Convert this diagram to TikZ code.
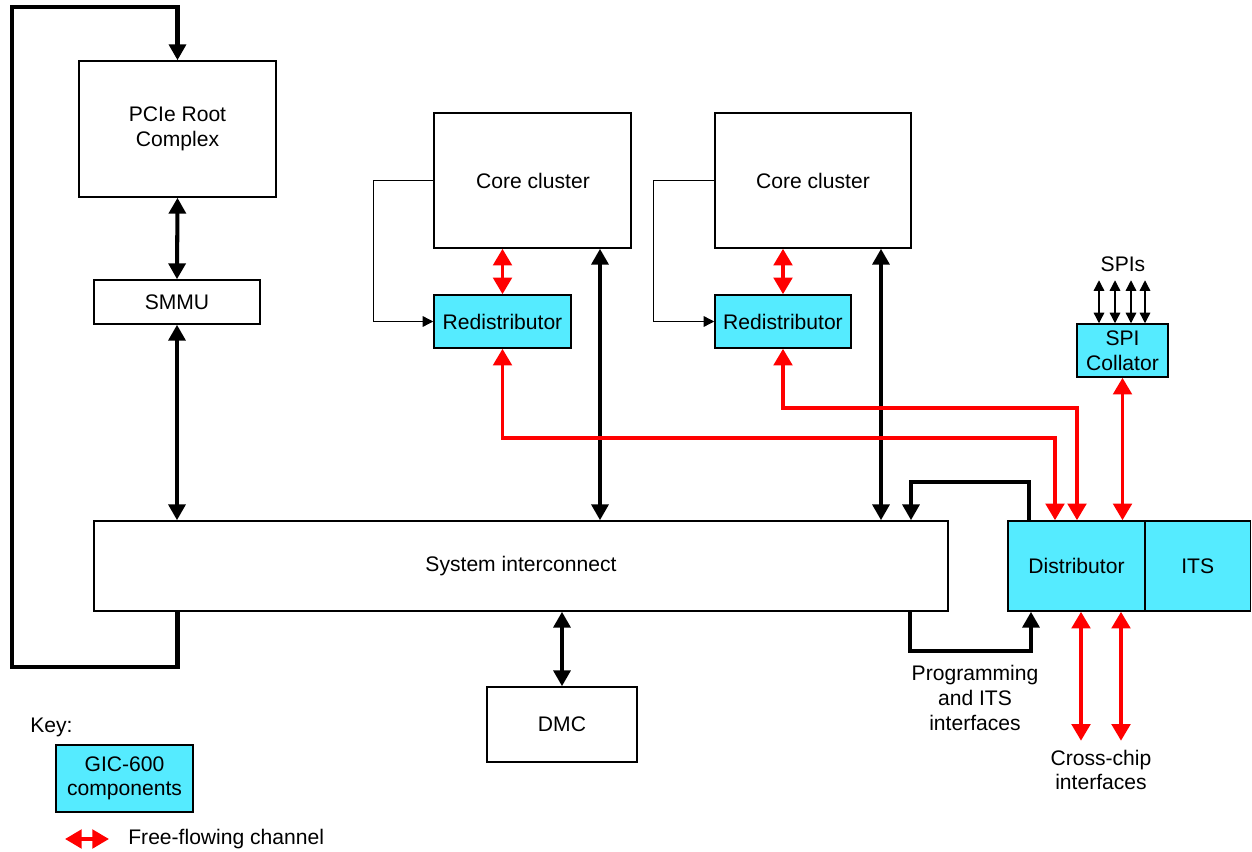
\documentclass[tikz,border=0pt]{standalone}
\usepackage{fontspec}
\setmainfont{Liberation Sans}
\usetikzlibrary{arrows.meta,calc}
\definecolor{gic}{RGB}{85,235,255}
% \bx{name}{x1}{y1}{x2}{y2}{style}{text}
\newcommand\bx[7]{\node[#6, minimum width={(#4-#2)*0.02cm}, minimum height={(#5-#3)*0.02cm}] (#1) at ({(#2+#4)/2},{(#3+#5)/2}) {#7};}
\begin{document}
\begin{tikzpicture}[x=0.02cm,y=-0.02cm,
  box/.style={draw=black, line width=0.85pt, inner sep=0pt, align=center, font=\fontsize{12}{14}\selectfont},
  gicbox/.style={box, fill=gic},
  lbl/.style={inner sep=0pt, align=center, font=\fontsize{12}{14}\selectfont},
  bkhead/.tip={Triangle[length=9pt,width=9.5pt]},
  rdhead/.tip={Triangle[length=9.5pt,width=10.5pt]},
  thhead/.tip={Triangle[length=6pt,width=6pt]},
  bk/.style={line width=2.3pt, bkhead-bkhead},
  bkto/.style={line width=2.3pt, -bkhead},
  rd/.style={draw=red, line width=2.2pt, rdhead-rdhead},
  thinto/.style={line width=0.75pt, -thhead},
  thinb/.style={line width=0.75pt, thhead-thhead}]
\useasboundingbox (0,0) rectangle (1252,852);
% boxes
\bx{pcie}{79}{61}{276}{197}{box}{PCIe Root\\Complex}
\bx{smmu}{94}{280}{260}{324}{box}{SMMU}
\bx{core1}{434}{113}{631}{248}{box}{}
\bx{core2}{715}{113}{911}{248}{box}{}
\node[lbl] (cc1t) at (533,181) {Core cluster};
\node[lbl] (cc2t) at (813,181) {Core cluster};
\bx{red1}{434}{295}{571}{348}{gicbox}{Redistributor}
\bx{red2}{715}{295}{851}{348}{gicbox}{Redistributor}
\bx{spi}{1077}{324}{1168}{377}{gicbox}{SPI\\Collator}
\bx{sysint}{94}{521}{948}{611}{box}{System interconnect}
\bx{dist}{1008}{521}{1145}{611}{gicbox}{Distributor}
\bx{its}{1145}{521}{1250.5}{611}{gicbox}{ITS}
\bx{dmc}{487}{687}{637}{762}{box}{DMC}
\bx{keybox}{56}{745}{193}{812}{gicbox}{GIC-600\\components}
% labels
\node[lbl, anchor=west] (keyt) at (30,727) {Key:};
\node[lbl] (spist) at (1123,264) {SPIs};
\node[lbl] (progt) at (975,698) {Programming\\and ITS\\interfaces};
\node[lbl] (crosst) at (1101,770) {Cross-chip\\interfaces};
\node[lbl, anchor=west] (freet) at (128,839) {Free-flowing channel};
% helper coordinates
\coordinate (c600) at (600,0);
\coordinate (c881) at (881,0);
\coordinate (c1055) at (1055,0);
\coordinate (c1077) at (1077,0);
\coordinate (c1029) at (1029,0);
\coordinate (c911) at (911,0);
\coordinate (c910) at (910,0);
\coordinate (c1031) at (1031,0);
\coordinate (c1081) at (1081,0);
\coordinate (c1121) at (1121,0);
\coordinate (loopb) at (12,667);
\coordinate (loopt) at (12,7);
\coordinate (k1) at (65,839);
\coordinate (k2) at (109,839);
% black connectors
\draw[bk] (pcie.south) -- (smmu.north);
\draw[bk] (smmu.south) -- (smmu.south |- sysint.north);
\draw[line width=2.3pt, -bkhead] (sysint.south -| pcie.south) |- (loopb) -- (loopt) -| (pcie.north);
\draw[bk] (c600 |- core1.south) -- (c600 |- sysint.north);
\draw[bk] (c881 |- core2.south) -- (c881 |- sysint.north);
\draw[bk] (dmc.north |- sysint.south) -- (dmc.north);
\draw[bkto] (c1029 |- dist.north) -- ++(0,-38) -| (c911 |- sysint.north);
\draw[bkto] (c910 |- sysint.south) -- ++(0,39) -| (c1031 |- dist.south);
% thin connectors
\draw[thinto] (core1.west) -- ++(-60,0) |- (red1.west);
\draw[thinto] (core2.west) -- ++(-61,0) |- (red2.west);
\foreach \xx [count=\i] in {1099,1115,1131,1145}{
  \coordinate (s\i) at (\xx,0);
  \draw[thinb] (s\i |- spi.north) -- ++(0,-43);
}
% red connectors
\draw[rd] (core1.south -| red1.north) -- (red1.north);
\draw[rd] (core2.south -| red2.north) -- (red2.north);
\draw[rd] (red1.south) -- ++(0,89) -| (c1055 |- dist.north);
\draw[rd] (red2.south) -- ++(0,59) -| (c1077 |- dist.north);
\draw[rd] (spi.south) -- (spi.south |- dist.north);
\draw[rd] (c1081 |- dist.south) -- ++(0,129);
\draw[rd] (c1121 |- dist.south) -- ++(0,129);
\draw[rd] (k1) -- (k2);
\end{tikzpicture}
\end{document}
